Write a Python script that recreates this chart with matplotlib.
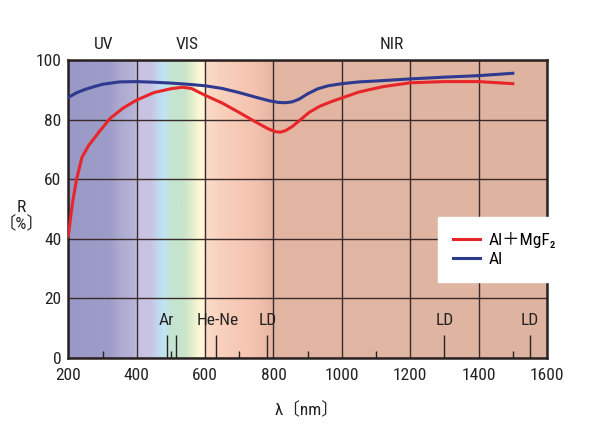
import matplotlib
matplotlib.use("Agg")
import matplotlib.pyplot as plt
import numpy as np
from matplotlib.colors import LinearSegmentedColormap, to_rgb

# Reflectance data
wl_al = [200, 225, 250, 275, 300, 350, 400, 450, 500, 550, 600, 650, 700, 750, 790, 815, 835,
         855, 875, 900, 930, 960, 1000, 1050, 1100, 1200, 1300, 1400, 1500]
r_al = [87.6, 89.2, 90.3, 91.2, 92.0, 92.8, 92.9, 92.7, 92.4, 92.0, 91.5, 90.6, 89.2, 87.6, 86.4, 85.9, 85.8,
        86.1, 87.0, 88.8, 90.5, 91.5, 92.2, 92.8, 93.1, 93.8, 94.4, 94.9, 95.7]

wl_mgf2 = [200, 212, 224, 240, 260, 290, 322, 360, 400, 450, 500, 533, 560, 600, 650, 700,
           750, 785, 805, 820, 835, 855, 880, 905, 935, 970, 1000, 1050, 1120, 1200, 1300, 1400, 1500]
r_mgf2 = [41.0, 52.0, 60.0, 67.5, 71.5, 76.0, 80.5, 84.0, 86.7, 89.2, 90.5, 91.0, 90.6, 88.3, 85.7, 82.5,
          79.2, 77.0, 76.1, 75.9, 76.4, 77.8, 80.2, 82.6, 84.6, 86.2, 87.4, 89.4, 91.2, 92.5, 92.9, 92.9, 92.2]

# spectrum background colour stops (nm, colour)
spec_nm = [200, 320, 350, 395, 400, 440, 465, 480, 500, 540, 565, 585, 598, 602, 650, 740, 790, 800, 1600]
spec_col = ["#9a98c6", "#9e9cc8", "#acaad0", "#b8b4d8", "#c6c2e0", "#c8c4e2", "#c0daf0", "#c0e4f2",
            "#c4e4d2", "#c8e4cc", "#e6f0cc", "#fff8d8", "#fff8dc", "#fcdcc8", "#f8d0bc", "#f4c4b0",
            "#e8b8a4", "#e2b6a2", "#deb4a0"]

# laser lines
laser_nm = [488, 514.5, 632.8, 780, 1300, 1550]
laser_names = ["Ar", "He-Ne", "LD", "LD", "LD"]
laser_label_x = [487, 637, 784, 1300, 1550]
minor_nm = [300, 500, 700, 900, 1100, 1500]

region_names = ["UV", "VIS", "NIR"]
region_x = [302, 548, 1147]

plt.rcParams['font.family'] = ['Liberation Sans Narrow', 'DejaVu Sans Condensed', 'Roboto Condensed',
                               'Liberation Sans', 'DejaVu Sans', 'Noto Sans CJK JP']
FS = 12.5

fig = plt.figure(figsize=(5.92, 4.32), dpi=100)
ax = fig.add_axes([0.1154, 0.1713, 0.8086, 0.6887])

# background gradient
lo, hi = spec_nm[0], spec_nm[-1]
cmap = LinearSegmentedColormap.from_list(
    "spec", [((n - lo) / (hi - lo), to_rgb(c)) for n, c in zip(spec_nm, spec_col)], N=1024)
grad = np.linspace(0, 1, 1400).reshape(1, -1)
ax.imshow(grad, cmap=cmap, aspect="auto", extent=[lo, hi, 0, 100], zorder=0)

ax.set_xlim(200, 1600)
ax.set_ylim(0, 100)
ax.set_xticks(np.arange(200, 1601, 200))
ax.set_yticks(np.arange(0, 101, 20))
ax.grid(True, color="#3a2a2a", linewidth=1.0, zorder=1)
ax.tick_params(length=0, labelsize=FS, pad=7, labelcolor="#222222")
ax.tick_params(axis="y", pad=5)

for s in ax.spines.values():
    s.set_linewidth(1.8)
    s.set_color("#2a2222")

# laser marks and minor ticks
ax.vlines(laser_nm, 0, 7.7, color="#2a2222", linewidth=1.0, zorder=2)
ax.vlines(minor_nm, 0, 2.5, color="#2a2222", linewidth=1.0, zorder=2)
for name, x in zip(laser_names, laser_label_x):
    ax.text(x, 12.6, name, ha="center", va="center", fontsize=FS, color="#222222", zorder=3)

ax.plot(wl_mgf2, r_mgf2, color="#e8262a", linewidth=2.2, label="Al＋MgF₂", zorder=4)
ax.plot(wl_al, r_al, color="#2e3990", linewidth=2.2, label="Al", zorder=4)

for name, x in zip(region_names, region_x):
    ax.text(x, 105.5, name, ha="center", va="center", fontsize=FS, color="#222222")

leg = ax.legend(loc="upper left", bbox_to_anchor=(0.772, 0.474), frameon=True, fancybox=False,
                fontsize=FS, handlelength=1.6, borderpad=0.85, labelspacing=0.25, handletextpad=0.5,
                borderaxespad=0)
leg.get_frame().set_facecolor("white")
leg.get_frame().set_edgecolor("white")
leg.get_frame().set_alpha(1.0)
leg.set_zorder(5)

fig.text(21.7 / 592, 1 - 216 / 432, "R\n〔%〕", ha="center", va="center", fontsize=FS,
         linespacing=1.1, color="#222222")
fig.text(307 / 592, 1 - 410 / 432, "λ〔nm〕", ha="center", va="center", fontsize=FS,
         color="#222222")

fig.savefig("out.png", dpi=100)
